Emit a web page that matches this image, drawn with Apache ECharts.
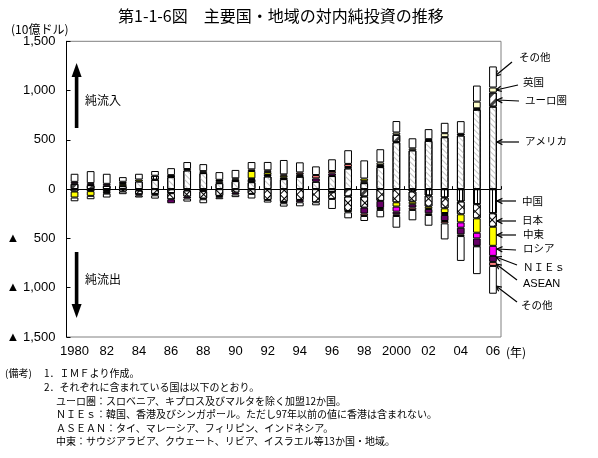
<!DOCTYPE html>
<html>
<head>
<meta charset="utf-8">
<script src="https://cdn.jsdelivr.net/npm/echarts@6/dist/echarts.min.js"></script>
<style>
  html, body { margin: 0; padding: 0; background: #fff; }
  #chart { width: 598px; height: 458px; }
</style>
</head>
<body>
<div id="chart"></div>
<script>
// 年（1980〜2006）
const years = ['1980', '81', '82', '83', '84', '85', '86', '87', '88', '89',
  '90', '91', '92', '93', '94', '95', '96', '97', '98', '99',
  '2000', '01', '02', '03', '04', '05', '06'];

// 対内純投資（10億ドル）、プラス＝純流入、マイナス＝純流出
const us = [-24, -20, -17, 31, 78, 95, 122, 190, 163, 61, 82, 71, 129, 102, 126, 75, 133, 211, 61, 224, 476, 394, 490, 527, 544, 806, 837];
const euro = [54, 41, 34, 0, -14, 0, -41, -14, -20, 0, 14, 24, 0, 0, 0, 0, -31, -75, -75, 20, 75, 0, 17, 0, 17, 14, 143];
const uk = [0, 0, -14, 0, 0, 0, 0, 14, 20, 20, 14, 0, 0, 0, 0, 0, 0, 0, 20, 27, 24, 20, 0, 41, 0, 68, 51];
const china = [0, 0, 0, 0, 0, 41, 20, 0, 0, 14, 0, 14, 14, 14, 14, 0, 0, 0, 0, 0, 0, -24, -65, -85, -126, -153, -245];
const japan = [0, 0, -14, -24, -37, -48, -61, -61, -75, -68, -34, -48, -109, -129, -109, -133, -68, -146, -112, -119, -133, -102, -112, -109, -129, -143, -136];
const mideast = [-61, -48, 0, 20, 20, 0, 0, 0, 0, 0, 0, 75, 27, 20, 10, 0, 0, -14, 27, 0, -44, -27, -24, -48, -82, -146, -194];
const russia = [0, 0, 0, 0, 0, 0, 0, 0, 0, 0, 0, 0, 0, 0, 0, 0, 0, 0, 0, 0, -51, 0, 0, -20, -54, -58, -102];
const nies = [20, 20, 20, 10, -14, -14, -41, -20, -7, -14, -20, 0, 7, -14, -24, 34, 27, 14, -61, -72, -27, -34, -44, -61, -68, -75, -61];
const asean = [0, 0, 0, 14, 0, 0, 0, 0, 0, 0, 0, 17, 14, 14, 20, 34, 24, 31, -24, -20, -17, -24, -17, -24, -17, -5, -41];
const otherIn = [82, 122, 102, 47, 58, 48, 71, 71, 71, 78, 85, 74, 85, 146, 102, 88, 119, 139, 184, 134, 116, 102, 102, 105, 129, 163, 214];
const otherOut = [-38, -34, -40, -27, -20, -34, 0, -31, -41, -20, -27, -47, -27, -34, -41, -31, -102, -61, -51, -75, -119, -105, -109, -163, -252, -282, -282];

const chart = echarts.init(document.getElementById('chart'));

const NUM_FONT = '"Liberation Sans Narrow", "Liberation Sans", sans-serif';
const JP_FONT = '"Noto Sans CJK JP", sans-serif';

// 模様
const decals = {
  us: { symbol: 'rect', symbolSize: 1, color: '#c4c4c4', dashArrayX: [1, 0], dashArrayY: [1, 3], rotation: Math.PI / 4 },
  euro: { symbol: 'rect', symbolSize: 1, color: '#404040', dashArrayX: [1, 0], dashArrayY: [3, 4], rotation: -Math.PI / 4 },
  china: { symbol: 'rect', symbolSize: 1, color: '#000', dashArrayX: [1, 2], dashArrayY: [1, 0], rotation: 0 },
  japan: { symbol: 'rect', symbolSize: 1, color: '#fff', backgroundColor: '#000', dashArrayX: [5, 1], dashArrayY: [5, 1], rotation: Math.PI / 4 }
};

const defs = [
  ['アメリカ', us, '#fff', decals.us],
  ['ユーロ圏', euro, '#fff', decals.euro],
  ['英国', uk, '#ffffcc'],
  ['中国', china, '#fff', decals.china],
  ['日本', japan, '#fff', decals.japan],
  ['中東', mideast, '#ffff00'],
  ['ロシア', russia, '#ff00ff'],
  ['NIEs', nies, '#660066'],
  ['ASEAN', asean, '#ff8080'],
  ['その他（流入）', otherIn, '#fff'],
  ['その他（流出）', otherOut, '#fff']
];

const series = defs.map(function (d) {
  const style = { color: d[2], borderColor: '#000', borderWidth: 1 };
  if (d[3]) style.decal = d[3];
  return {
    name: d[0],
    type: 'bar',
    stack: 'total',
    xAxisIndex: 0,
    barWidth: 7.7,
    data: d[1].map(function (v) { return v === 0 ? '-' : v; }),
    itemStyle: style,
    emphasis: { disabled: true }
  };
});

function yFmt(v) {
  const a = Math.abs(v).toLocaleString('en-US');
  if (v >= 0) return a;
  return a.length > 3 ? '▲ ' + a : '▲    ' + a;
}

function txt(x, y, s, font, align) {
  return {
    type: 'text', x: x, y: y,
    style: { text: s, font: font, fill: '#000', align: align || 'left', verticalAlign: 'middle', textAlign: align || 'left', textVerticalAlign: 'middle' }
  };
}

function arrow(x1, y1, x2, y2) {
  const a = Math.atan2(y2 - y1, x2 - x1), L = 6, w = 0.45;
  return [
    { type: 'line', shape: { x1: x1, y1: y1, x2: x2, y2: y2 }, style: { stroke: '#000', lineWidth: 1.2 } },
    { type: 'polyline', shape: { points: [
      [x2 - L * Math.cos(a - w), y2 - L * Math.sin(a - w)], [x2, y2],
      [x2 - L * Math.cos(a + w), y2 - L * Math.sin(a + w)]] },
      style: { stroke: '#000', lineWidth: 1.2, fill: 'none' } }
  ];
}

// 右側の凡例（ラベル位置, 矢印）
const notes = [
  ['その他', 519, 57, [512, 62, 495, 76]],
  ['英国', 523, 82, [518, 85, 496, 90]],
  ['ユーロ圏', 525, 100, [519, 101, 497, 100]],
  ['アメリカ', 525, 141, [519, 142, 497, 142]],
  ['中国', 522, 201, [516, 201, 497, 201]],
  ['日本', 522, 220, [516, 221, 497, 221]],
  ['中東', 523, 234, [516, 235, 497, 235]],
  ['ロシア', 523, 248, [516, 250, 497, 249]],
  ['ＮＩＥｓ', 523, 267, [517, 265, 496, 257]],
  ['ASEAN', 523, 284, [517, 280, 496, 264]],
  ['その他', 521, 305, [517, 302, 496, 286]]
];

const graphics = [
  txt(118, 16, '第1-1-6図　主要国・地域の対内純投資の推移', '16px ' + JP_FONT),
  txt(11, 29, '(10億ドル)', '12px ' + JP_FONT),
  txt(506, 352, '(年)', '12px ' + JP_FONT),
  // 純流入・純流出の矢印
  { type: 'rect', shape: { x: 74.8, y: 74, width: 3.6, height: 54 }, style: { fill: '#000' } },
  { type: 'polygon', shape: { points: [[71.6, 77], [81.6, 77], [76.6, 63]] }, style: { fill: '#000' } },
  { type: 'rect', shape: { x: 74.8, y: 252, width: 3.6, height: 54 }, style: { fill: '#000' } },
  { type: 'polygon', shape: { points: [[71.6, 304], [81.6, 304], [76.6, 318]] }, style: { fill: '#000' } },
  txt(85, 100, '純流入', '12px ' + JP_FONT),
  txt(85, 279, '純流出', '12px ' + JP_FONT),
  // 備考
  txt(5, 373, '(備考)', '10px ' + JP_FONT),
  txt(44, 373, '1．ＩＭＦより作成。', '10px ' + JP_FONT),
  txt(44, 387, '2．それぞれに含まれている国は以下のとおり。', '10px ' + JP_FONT),
  txt(56, 401, 'ユーロ圏：スロベニア、キプロス及びマルタを除く加盟12か国。', '10px ' + JP_FONT),
  txt(56, 414, 'ＮＩＥｓ：韓国、香港及びシンガポール。ただし97年以前の値に香港は含まれない。', '10px ' + JP_FONT),
  txt(56, 428, 'ＡＳＥＡＮ：タイ、マレーシア、フィリピン、インドネシア。', '10px ' + JP_FONT),
  txt(56, 441, '中東：サウジアラビア、クウェート、リビア、イスラエル等13か国・地域。', '10px ' + JP_FONT)
];
notes.forEach(function (n) {
  const f = n[0] === 'ASEAN' ? '11px "Liberation Sans", sans-serif' : '10.5px ' + JP_FONT;
  graphics.push(txt(n[1], n[2], n[0], f));
  arrow.apply(null, n[3]).forEach(function (g) { graphics.push(g); });
});

const option = {
  animation: false,
  backgroundColor: '#fff',
  grid: { left: 66.5, right: 97, top: 41.3, bottom: 121, show: true, borderColor: '#808080', borderWidth: 1 },
  xAxis: [
    {
      type: 'category', data: years, position: 'bottom',
      axisLine: { show: false, onZero: false },
      axisTick: { show: false },
      axisLabel: { interval: 1, margin: 8, color: '#000', fontSize: 13, fontFamily: NUM_FONT }
    },
    {
      type: 'category', data: years, position: 'top',
      axisLine: { show: true, onZero: true, lineStyle: { color: '#000', width: 1 } },
      axisTick: { show: true, inside: false, length: 3, lineStyle: { color: '#000' } },
      axisLabel: { show: false }
    }
  ],
  yAxis: {
    type: 'value', min: -1500, max: 1500, interval: 500,
    axisLine: { show: true, lineStyle: { color: '#000', width: 1 } },
    axisTick: { show: true, inside: true, length: 4, lineStyle: { color: '#000' } },
    splitLine: { show: false },
    axisLabel: { formatter: yFmt, margin: 11, color: '#000', fontSize: 13, fontFamily: NUM_FONT }
  },
  series: series,
  graphic: { elements: graphics }
};

chart.setOption(option);
</script>
</body>
</html>
